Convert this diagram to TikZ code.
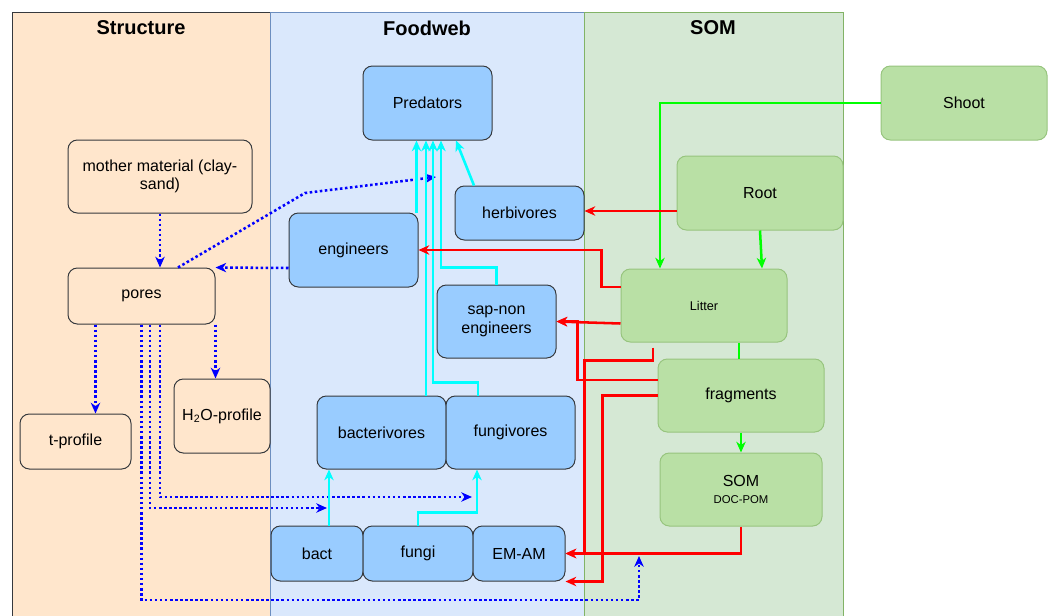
\documentclass[tikz,border=0pt]{standalone}
\usepackage{fontspec}
\setmainfont{Liberation Sans}
\usetikzlibrary{arrows.meta,calc}
\definecolor{strucfill}{HTML}{FFE6CC}
\definecolor{darkline}{HTML}{36393D}
\definecolor{webfill}{HTML}{DAE8FC}
\definecolor{webline}{HTML}{6C8EBF}
\definecolor{somfill}{HTML}{D5E8D4}
\definecolor{somline}{HTML}{82B366}
\definecolor{orgfill}{HTML}{99CCFF}
\definecolor{plantfill}{HTML}{B9E0A5}
\definecolor{plantline}{HTML}{97C47E}
\definecolor{soilblue}{HTML}{0000FF}
\definecolor{feedcyan}{HTML}{00FFFF}
\definecolor{plantgreen}{HTML}{00FF00}
\definecolor{decompred}{HTML}{FF0000}
\begin{document}
\begin{tikzpicture}[x=0.75pt,y=-0.75pt,
		every node/.style={font=\fontsize{12}{14}\selectfont,align=center,inner sep=0pt},
		sz/.style 2 args={minimum width=#1*0.75pt,minimum height=#2*0.75pt},
		lanetitle/.style={font=\fontsize{15}{18}\selectfont\bfseries},
		strucbox/.style={rectangle,rounded corners=7pt,draw=darkline,fill=strucfill,line width=0.75pt},
		webbox/.style={rectangle,rounded corners=7pt,draw=darkline,fill=orgfill,line width=0.75pt},
		plantbox/.style={rectangle,rounded corners=7pt,draw=plantline,fill=plantfill,line width=0.75pt},
		tip/.style={-{Stealth[length=8pt,width=7pt,inset=2.4pt]}},
		soil/.style={tip,draw=soilblue,line width=1.9pt,dash pattern=on 1.9pt off 1.9pt},
		feed/.style={tip,draw=feedcyan,line width=1.9pt},
		plant/.style={tip,draw=plantgreen,line width=1.9pt},
		decomp/.style={tip,draw=decompred,line width=1.9pt}]
	\useasboundingbox (0,0) rectangle (1050,615);
	\node[sz={258}{608},draw=darkline,fill=strucfill,line width=0.75pt] (structure) at (141,316) {};
	\node[sz={314}{608},draw=webline,fill=webfill,line width=0.75pt] (foodweb) at (427,316) {};
	\node[sz={259}{608},draw=somline,fill=somfill,line width=0.75pt] (somlane) at (713.5,316) {};
	\node[lanetitle] (structitle) at (141,28) {Structure};
	\node[lanetitle] (webtitle) at (427,28) {Foodweb};
	\node[lanetitle] (somtitle) at (713,28) {SOM};

	\node[strucbox,sz={184}{73}] (mm) at (160,176.5) {mother material (clay-\\sand)};
	\node[strucbox,sz={147}{56}] (pores) at (141.5,296) {pores};
	\node[strucbox,sz={111}{55}] (tprof) at (75.5,441.5) {t-profile};
	\node[strucbox,sz={96}{74}] (h2o) at (222,416) {H\textsubscript{2}O-profile};

	\node[webbox,sz={129}{74}] (pred) at (427.5,103) {Predators};
	\node[webbox,sz={129}{54}] (herb) at (519.5,213) {herbivores};
	\node[webbox,sz={129}{74}] (eng) at (353.5,250) {engineers};
	\node[webbox,sz={119}{73}] (sap) at (496.5,321.5) {sap-non\\engineers};
	\node[webbox,sz={129}{73}] (bacv) at (381.5,432.5) {bacterivores};
	\node[webbox,sz={129}{73}] (fungv) at (510.5,432.5) {fungivores};
	\node[webbox,sz={92}{55}] (bact) at (317,553.5) {bact};
	\node[webbox,sz={110}{55}] (fungi) at (418,553.5) {fungi};
	\node[webbox,sz={92}{55}] (emam) at (519,553.5) {EM-AM};

	\node[plantbox,sz={166}{74}] (shoot) at (964,103) {Shoot};
	\node[plantbox,sz={166}{74}] (root) at (760,193) {Root};
	\node[plantbox,sz={166}{73},font=\fontsize{9.5}{11}\selectfont] (litter) at (704,305.5) {Litter};
	\node[plantbox,sz={166}{73}] (frag) at (741,395.5) {fragments};
	\node[plantbox,sz={162}{73}] (som) at (741,489.5) {SOM\\[-1pt]{\fontsize{8.5}{10}\selectfont DOC-POM}};

	\coordinate (predin) at (436,177);
	\coordinate (fungin) at (472,497);
	\coordinate (bactin) at (327,508);
	\coordinate (emin) at (639,556);

	\draw[soil] (mm.south) -- (mm.south |- pores.north);
	\draw[soil] ($(eng.west)+(0,18)$) -- (pores.north east);
	\draw[soil] ($(pores.north)+(36.5,0)$) -- (305,193) -- (predin);
	\draw[soil] ($(pores.south)+(-46,0)$) coordinate (a) -- (a |- tprof.north);
	\draw[soil] (pores.south east) coordinate (b) -- (b |- h2o.north);
	\draw[soil] ($(pores.south)+(18.5,0)$) |- (fungin);
	\draw[soil] ($(pores.south)+(8.5,0)$) |- (bactin);
	\draw[soil] (pores.south) |- (639,600) -- (emin);

	\draw[feed] ($(bact.north)+(12,0)$) coordinate (c) -- (c |- bacv.south);
	\draw[feed] (fungi.north) -- ++(0,-13) -| ($(fungv.south)+(-33.5,0)$);
	\draw[feed] ($(eng.north east)+(-2,0)$) coordinate (d) -- (d |- pred.south);
	\draw[feed] ($(bacv.north)+(44.5,0)$) coordinate (e) -- (e |- pred.south);
	\draw[feed] ($(fungv.north)+(-32.5,0)$) -- ++(0,-13) -| ($(pred.south)+(5.5,0)$);
	\draw[feed] (sap.north) -- ++(0,-17) -| ($(pred.south)+(13.5,0)$);
	\draw[feed] ($(herb.north)+(-45.5,0)$) -- ($(pred.south)+(28.5,0)$);

	\draw[plant] (shoot.west) -| ($(litter.north)+(-44,0)$);
	\draw[plant] (root.south) -- ($(litter.north)+(58,0)$);
	\draw[plant,-] ($(litter.south)+(35,0)$) coordinate (f) -- (f |- frag.north);
	\draw[plant] (frag.south) -- (som.north);

	\draw[decomp] ($(root.west)+(0,18)$) coordinate (g) -- (g -| herb.east);
	\draw[decomp] ($(litter.west)+(0,-18.5)$) -- ++(-19,0) |- (eng.east);
	\draw[decomp] ($(litter.west)+(0,18)$) -- (sap.east);
	\draw[decomp] ($(frag.west)+(0,-15.5)$) -| ($(sap.east)+(21,0)$) -- (sap.east);
	\draw[decomp] ($(litter.south)+(-51,5)$) -- ++(0,13) -| ($(emam.east)+(19,0)$) -- (emam.east);
	\draw[decomp] (som.south) |- (emam.east);
	\draw[decomp] (frag.west) -| ($(emam.south east)+(37,0)$) -- (emam.south east);
\end{tikzpicture}
\end{document}
